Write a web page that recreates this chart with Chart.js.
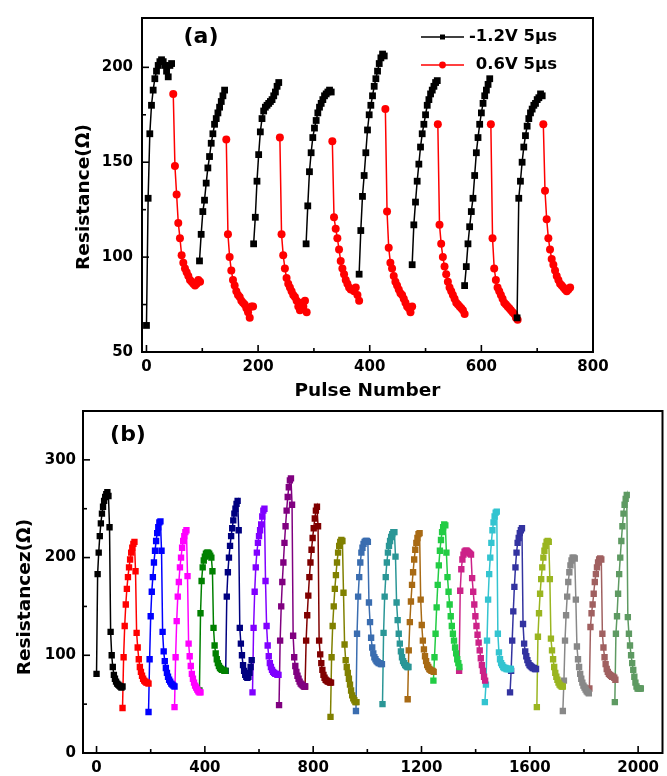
<!DOCTYPE html>
<html>
<head>
<meta charset="utf-8">
<script src="https://cdn.jsdelivr.net/npm/chart.js@4.4.0/dist/chart.umd.min.js"></script>
<style>
    body { margin: 0; background: #fff; width: 667px; height: 776px; position: relative; overflow: hidden; }
    #wrapA { position: absolute; left: 0; top: 0; }
    #wrapB { position: absolute; left: 0; top: 395px; }
</style>
</head>
<body>
<div id="wrapA"><canvas id="chartA" width="667" height="410"></canvas></div>
<div id="wrapB"><canvas id="chartB" width="667" height="381"></canvas></div>
<script>
// ---- panel (a) data ----
const xTicksA = [0, 200, 400, 600, 800]
const xMinorA = [100, 300, 500, 700]
const yTicksA = [50, 100, 150, 200]
const yMinorA = [75, 125, 175]

// -1.2V 5us (set) segments, one value every 3 pulses
const setStartsA = [0, 95, 192, 286, 381, 476, 570, 664]
const setValsA = [
    [64, 131, 165, 180, 188, 194, 198, 201, 203, 204, 203, 201, 198, 195, 201, 202],
    [98, 112, 124, 130, 139, 147, 153, 160, 165, 170, 173, 176, 179, 182, 185, 188],
    [107, 121, 140, 154, 166, 173, 177, 179, 180, 181, 182, 183, 185, 187, 190, 192],
    [107, 127, 145, 155, 163, 168, 172, 176, 179, 181, 183, 185, 186, 187, 188, 187],
    [91, 114, 132, 143, 155, 167, 175, 180, 185, 190, 194, 198, 202, 205, 207, 206],
    [96, 117, 129, 140, 149, 158, 165, 170, 175, 180, 183, 186, 188, 190, 192, 193],
    [85, 95, 107, 116, 124, 131, 143, 155, 163, 170, 176, 181, 185, 188, 191, 194],
    [68, 131, 140, 150, 158, 164, 169, 173, 176, 178, 180, 181, 183, 184, 186, 185],
]
// 0.6V 5us (reset) segments
const resetStartsA = [48, 143, 239, 333, 428, 522, 617, 711]
const resetValsA = [
    [186, 148, 133, 118, 110, 101, 97, 94, 92, 90, 88, 87, 86, 85, 86, 88, 87],
    [162, 112, 100, 93, 88, 85, 82, 80, 79, 77, 76, 75, 73, 71, 68, 74, 74],
    [163, 112, 101, 94, 89, 86, 84, 82, 80, 79, 77, 74, 72, 76, 74, 77, 71],
    [161, 121, 115, 110, 104, 98, 94, 91, 88, 86, 84, 83, 83, 82, 84, 80, 77],
    [178, 124, 105, 97, 94, 90, 87, 85, 83, 81, 80, 78, 76, 74, 73, 71, 74],
    [170, 117, 107, 100, 95, 91, 87, 84, 82, 80, 78, 76, 75, 74, 73, 72, 70],
    [170, 110, 94, 88, 84, 82, 80, 78, 76, 75, 74, 73, 72, 71, 70, 68, 67],
    [170, 135, 120, 110, 104, 99, 96, 93, 90, 88, 86, 85, 84, 83, 82, 83, 84],
]

// ---- panel (b) data ----
const xTicksB = [0, 400, 800, 1200, 1600, 2000]
const xMinorB = [200, 600, 1000, 1400, 1800]
const yTicksB = [0, 100, 200, 300]
const yMinorB = [50, 150, 250]

const cycleStartsB = [0, 96, 192, 288, 380, 477, 576, 674, 770, 864, 958, 1056, 1149, 1244, 1339, 1434, 1527, 1626, 1722, 1820, 1914]
const cycleColorsB = ['#000000', '#ff0000', '#0000ff', '#ff00ff', '#008000', '#000080', '#8000ff', '#800080',
    '#800000', '#808000', '#3a6db0', '#2a9696', '#a86a14', '#22cc44', '#cc2288', '#33c4d0', '#3333a0',
    '#9ab520', '#888888', '#a06060', '#5e9a62']
// set part: one value every 4 pulses from cycle start
const setValsB = [
    [81, 183, 205, 222, 235, 245, 252, 258, 262, 265, 267, 263],
    [46, 98, 130, 152, 168, 180, 190, 198, 205, 210, 214, 216],
    [42, 96, 140, 165, 180, 195, 207, 217, 225, 231, 236, 237],
    [47, 98, 135, 160, 175, 190, 200, 210, 217, 222, 226, 228],
    [64, 143, 176, 190, 197, 201, 204, 205, 205, 204, 202, 200],
    [84, 160, 185, 200, 212, 222, 230, 238, 245, 250, 255, 258],
    [62, 128, 165, 190, 205, 215, 222, 228, 234, 242, 248, 250],
    [49, 115, 150, 175, 195, 215, 232, 248, 262, 272, 279, 281],
    [68, 115, 141, 161, 180, 195, 208, 220, 230, 240, 248, 252],
    [37, 98, 130, 150, 168, 182, 195, 205, 212, 216, 218, 217],
    [43, 122, 160, 180, 195, 205, 210, 214, 216, 217, 217, 216],
    [50, 123, 160, 180, 195, 205, 212, 217, 221, 224, 226, 226],
    [55, 105, 134, 155, 172, 185, 198, 208, 215, 220, 224, 225],
    [74, 98, 122, 149, 172, 192, 207, 218, 226, 231, 234, 233],
    [84, 166, 188, 198, 203, 206, 207, 207, 206, 205, 204, 203],
    [52, 70, 115, 157, 183, 200, 215, 228, 236, 242, 246, 247],
    [62, 84, 115, 145, 170, 190, 205, 215, 220, 225, 228, 230],
    [47, 119, 143, 163, 178, 190, 200, 207, 212, 216, 217, 216],
    [43, 74, 115, 141, 160, 175, 185, 192, 197, 200, 200, 199],
    [66, 129, 143, 152, 163, 175, 183, 190, 195, 198, 199, 198],
    [52, 122, 140, 163, 183, 200, 217, 232, 245, 254, 260, 264],
]
// reset part: one value every 4 pulses from cycle start + 48
const resetValsB = [
    [231, 124, 100, 88, 80, 76, 73, 71, 70, 69, 68, 67, 68],
    [186, 123, 108, 96, 88, 83, 79, 76, 74, 73, 72, 72, 71],
    [207, 124, 104, 94, 87, 82, 78, 75, 73, 71, 70, 69, 68],
    [181, 112, 99, 89, 81, 76, 72, 69, 67, 65, 63, 62, 62],
    [186, 128, 110, 102, 96, 92, 89, 87, 86, 85, 85, 84, 84],
    [228, 128, 112, 100, 90, 84, 80, 78, 77, 78, 82, 88, 95],
    [176, 130, 110, 99, 92, 88, 85, 83, 82, 81, 81, 80, 80],
    [254, 120, 98, 89, 83, 79, 76, 73, 71, 70, 69, 68, 68],
    [232, 115, 101, 92, 85, 80, 77, 75, 74, 73, 73, 72, 72],
    [164, 111, 95, 88, 82, 76, 70, 64, 59, 56, 54, 52, 52],
    [154, 134, 118, 108, 102, 98, 96, 94, 93, 92, 92, 91, 91],
    [201, 154, 136, 122, 112, 104, 98, 94, 92, 90, 89, 88, 88],
    [157, 131, 115, 106, 99, 94, 90, 88, 86, 85, 84, 84, 83],
    [205, 180, 165, 152, 140, 130, 122, 115, 108, 102, 96, 92, 88],
    [179, 165, 152, 140, 130, 121, 113, 105, 97, 90, 84, 78, 74],
    [122, 103, 96, 92, 90, 88, 87, 87, 86, 86, 86, 86, 86],
    [132, 112, 104, 99, 95, 92, 90, 89, 88, 87, 87, 86, 86],
    [178, 117, 105, 96, 88, 82, 78, 75, 72, 70, 69, 68, 68],
    [157, 109, 96, 88, 81, 76, 72, 69, 67, 65, 63, 62, 61],
    [122, 108, 98, 91, 86, 83, 81, 80, 79, 78, 78, 77, 75],
    [139, 122, 110, 100, 92, 85, 78, 72, 68, 66, 66, 66, 66],
]

// utils
const FONT = "'DejaVu Sans', 'Liberation Sans', sans-serif"
Chart.defaults.font.family = FONT
Chart.defaults.font.weight = 'bold'
Chart.defaults.color = '#000'

// segments separated by a null point so the line breaks between them
function segmentsToPoints(starts, segs, step) {
    const pts = []
    segs.forEach((vals, k) => {
        vals.forEach((v, i) => pts.push({ x: starts[k] + i * step, y: v }))
        pts.push({ x: starts[k] + vals.length * step, y: null })
    })
    return pts
}

function cyclePoints(k) {
    const pts = []
    setValsB[k].forEach((v, i) => pts.push({ x: cycleStartsB[k] + i * 4, y: v }))
    resetValsB[k].forEach((v, i) => pts.push({ x: cycleStartsB[k] + 48 + i * 4, y: v }))
    return pts
}

// frame, inward ticks, y title, panel letter and legend
const framePlugin = {
    id: 'frame',
    afterDraw(chart, args, opts) {
        const { ctx, chartArea: a } = chart
        const x = chart.scales.x, y = chart.scales.y
        ctx.save()
        ctx.strokeStyle = '#000'
        ctx.lineWidth = 2
        ctx.strokeRect(a.left, a.top, a.right - a.left, a.bottom - a.top)

        ctx.lineWidth = 1.6
        const line = (x1, y1, x2, y2) => { ctx.beginPath(); ctx.moveTo(x1, y1); ctx.lineTo(x2, y2); ctx.stroke() }
        opts.xMajor.forEach(v => { const p = x.getPixelForValue(v); line(p, a.bottom, p, a.bottom - 7) })
        opts.xMinor.forEach(v => { const p = x.getPixelForValue(v); line(p, a.bottom, p, a.bottom - 4) })
        opts.yMajor.forEach(v => { const p = y.getPixelForValue(v); line(a.left, p, a.left + 7, p) })
        opts.yMinor.forEach(v => { const p = y.getPixelForValue(v); line(a.left, p, a.left + 4, p) })

        ctx.fillStyle = '#000'
        ctx.textAlign = 'center'
        ctx.textBaseline = 'middle'

        // y axis title, rotated
        ctx.save()
        ctx.font = 'bold 18.5px ' + FONT
        ctx.translate(opts.yTitleX, opts.yTitleY)
        ctx.rotate(-Math.PI / 2)
        ctx.fillText(opts.yTitle, 0, 0)
        ctx.restore()

        ctx.font = 'bold 22px ' + FONT
        ctx.fillText(opts.letter, opts.letterX, opts.letterY)

        if (opts.legend) {
            const lg = opts.legend
            ctx.font = 'bold 16.5px ' + FONT
            ctx.textAlign = 'right'
            chart.data.datasets.forEach((ds, i) => {
                const ly = lg.y + i * lg.gap
                ctx.strokeStyle = ds.borderColor
                ctx.lineWidth = 1.5
                line(lg.x1, ly, lg.x2, ly)
                ctx.fillStyle = ds.borderColor
                const cx = (lg.x1 + lg.x2) / 2
                ctx.beginPath()
                if (ds.pointStyle === 'rect') ctx.rect(cx - 2.5, ly - 2.5, 5, 5)
                else ctx.arc(cx, ly, 3.4, 0, Math.PI * 2)
                ctx.fill()
                ctx.fillStyle = '#000'
                ctx.fillText(ds.label, lg.textRight, ly)
            })
        }
        ctx.restore()
    }
}

function makeScale(min, max, ticks, padding, fitKey, fitVal, title) {
    return {
        type: 'linear',
        min: min,
        max: max,
        afterBuildTicks: s => { s.ticks = ticks.map(v => ({ value: v })) },
        afterFit: s => { s[fitKey] = fitVal },
        grid: { display: false, drawTicks: false },
        border: { display: false },
        ticks: {
            autoSkip: false,
            maxRotation: 0,
            padding: padding,
            font: { size: 15, weight: 'bold' },
            color: '#000',
            callback: v => String(v)
        },
        title: title
    }
}

// ---- chart (a) ----
new Chart(document.getElementById('chartA'), {
    type: 'line',
    data: {
        datasets: [
            {
                label: '-1.2V 5μs',
                data: segmentsToPoints(setStartsA, setValsA, 3),
                borderColor: '#000',
                backgroundColor: '#000',
                borderWidth: 1.5,
                pointStyle: 'rect',
                pointRadius: 4.8,
                pointBorderWidth: 0,
                spanGaps: false
            },
            {
                label: '0.6V 5μs',
                data: segmentsToPoints(resetStartsA, resetValsA, 3),
                borderColor: '#f00',
                backgroundColor: '#f00',
                borderWidth: 1.5,
                pointStyle: 'circle',
                pointRadius: 4,
                pointBorderWidth: 0,
                spanGaps: false
            }
        ]
    },
    options: {
        responsive: false,
        animation: false,
        layout: { padding: { left: 0, right: 74, top: 14, bottom: 0 } },
        scales: {
            x: makeScale(-8, 800, xTicksA, 6, 'height', 58,
                { display: true, text: 'Pulse Number', font: { size: 18.5, weight: 'bold' }, color: '#000', padding: { top: 0, bottom: 8 } }),
            y: makeScale(50, 226, yTicksA, 9, 'width', 142, { display: false })
        },
        plugins: {
            legend: { display: false },
            tooltip: { enabled: false },
            frame: {
                xMajor: xTicksA, xMinor: xMinorA, yMajor: yTicksA, yMinor: yMinorA,
                yTitle: 'Resistance(Ω)', yTitleX: 84, yTitleY: 197,
                letter: '(a)', letterX: 201, letterY: 37,
                legend: { x1: 421, x2: 464, y: 37, gap: 28, textRight: 557 }
            }
        }
    },
    plugins: [framePlugin]
})

// ---- chart (b) ----
new Chart(document.getElementById('chartB'), {
    type: 'line',
    data: {
        datasets: cycleStartsB.map((s, k) => ({
            label: 'cycle ' + (k + 1),
            data: cyclePoints(k),
            borderColor: cycleColorsB[k],
            backgroundColor: cycleColorsB[k],
            borderWidth: 1.5,
            pointStyle: 'rect',
            pointRadius: 4.5,
            pointBorderWidth: 0
        }))
    },
    options: {
        responsive: false,
        animation: false,
        layout: { padding: { left: 0, right: 2, top: 16, bottom: 0 } },
        scales: {
            x: makeScale(-50, 2090, xTicksB, 6, 'height', 23, { display: false }),
            y: makeScale(0, 350, yTicksB, 7, 'width', 83, { display: false })
        },
        plugins: {
            legend: { display: false },
            tooltip: { enabled: false },
            frame: {
                xMajor: xTicksB, xMinor: xMinorB, yMajor: yTicksB, yMinor: yMinorB,
                yTitle: 'Resistancez(Ω)', yTitleX: 25, yTitleY: 202,
                letter: '(b)', letterX: 128, letterY: 40
            }
        }
    },
    plugins: [framePlugin]
})
</script>
</body>
</html>
